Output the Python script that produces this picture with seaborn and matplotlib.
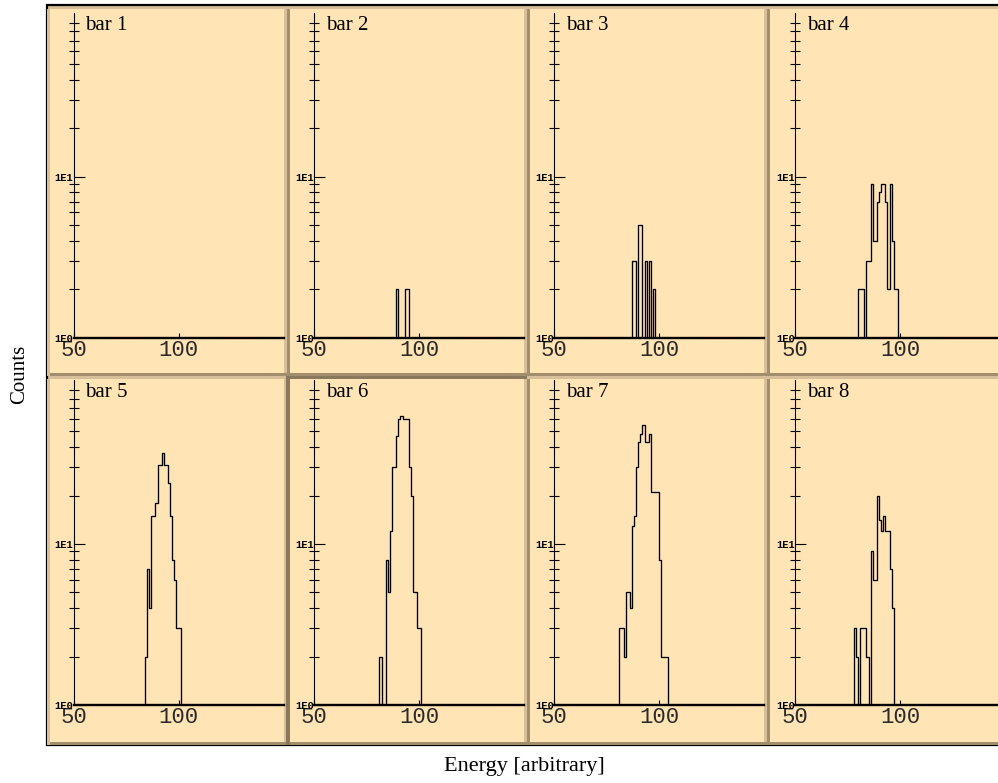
import numpy as np
import pandas as pd
import matplotlib
matplotlib.use("Agg")
import matplotlib.pyplot as plt
from matplotlib.patches import Rectangle
from matplotlib.ticker import NullFormatter, NullLocator
import seaborn as sns

# Energy bins (low edge, 1 unit wide) and counts for each bar
bar1_energy = [100]
bar1_counts = [1]
bar2_energy = [89, 93, 94]
bar2_counts = [2, 2, 2]
bar3_energy = [87, 88, 90, 91, 93, 94, 95, 96, 97]
bar3_counts = [3, 3, 5, 5, 3, 1, 3, 1, 2]
bar4_energy = [80, 81, 82, 84, 85, 86, 87, 88, 89, 90, 91, 92, 93, 94, 95, 96, 97, 98]
bar4_counts = [2, 2, 2, 3, 3, 9, 4, 4, 7, 8, 9, 9, 7, 2, 9, 4, 2, 2]
bar5_energy = [84, 85, 86, 87, 88, 89, 90, 91, 92, 93, 94, 95, 96, 97, 98, 99, 100]
bar5_counts = [2, 7, 4, 15, 15, 18, 31, 31, 37, 31, 31, 24, 15, 8, 6, 3, 3]
bar6_energy = [81, 84, 85, 86, 87, 88, 89, 90, 91, 92, 93, 94, 95, 96, 97, 98, 99, 100]
bar6_counts = [2, 8, 5, 12, 30, 30, 47, 60, 62, 60, 60, 60, 30, 20, 5, 5, 3, 3]
bar7_energy = [81, 82, 83, 84, 85, 86, 87, 88, 89, 90, 91, 92, 93, 94, 95, 96, 97,
               98, 99, 100, 101, 102, 103]
bar7_counts = [3, 3, 2, 5, 5, 4, 13, 15, 30, 43, 48, 55, 43, 43, 48, 21, 21,
               21, 21, 8, 2, 2, 2]
bar8_energy = [78, 79, 81, 82, 83, 84, 86, 87, 88, 89, 90, 91, 92, 93, 94, 95, 96]
bar8_counts = [3, 2, 3, 3, 3, 2, 9, 6, 6, 20, 14, 12, 15, 12, 12, 7, 4]

bar_names = ["bar 1", "bar 2", "bar 3", "bar 4", "bar 5", "bar 6", "bar 7", "bar 8"]
bar_energy = [bar1_energy, bar2_energy, bar3_energy, bar4_energy,
              bar5_energy, bar6_energy, bar7_energy, bar8_energy]
bar_counts = [bar1_counts, bar2_counts, bar3_counts, bar4_counts,
              bar5_counts, bar6_counts, bar7_counts, bar8_counts]

x_ticks = [50, 100]
x_ticklabels = ["50", "100"]
y_ticks = [1, 10]
y_ticklabels = ["1E0", "1E1"]
y_minor = [2, 3, 4, 5, 6, 7, 8, 9, 20, 30, 40, 50, 60, 70, 80, 90]
bin_edges = list(range(50, 151))

W, H = 998, 783
fig = plt.figure(figsize=(W / 100, H / 100), dpi=100, facecolor="white")

FACE = "#FFE4B5"
GAP = "#D7C099"
DARK = "#A28E6C"


def rect(x0, y0, x1, y1, **kw):
    """Rectangle given in pixel coordinates (origin top-left)."""
    r = Rectangle((x0 / W, 1 - y1 / H), (x1 - x0) / W, (y1 - y0) / H,
                  transform=fig.transFigure, **kw)
    fig.patches.append(r)
    return r


# outer frame and panel faces
rect(47, 5, 1003, 745, facecolor=GAP, edgecolor="black", linewidth=1.6, zorder=0)
face_x = [(50, 284), (290, 524), (530, 764), (770, 1003)]
face_y = [(9, 373), (379, 742)]
for r, (y0, y1) in enumerate(face_y):
    for c, (x0, x1) in enumerate(face_x):
        rect(x0, y0, x1, y1, facecolor=FACE, edgecolor="none", zorder=1)
        rect(x0 - 3, y0, x0, y1 + 3, facecolor=DARK if c else GAP,
             edgecolor="none", zorder=1)
        rect(x0, y1, x1 + 3, y1 + 3, facecolor=DARK, edgecolor="none", zorder=1)
# the selected panel has a deeper frame
rect(286, 376, 290, 745, facecolor="#8A785C", edgecolor="none", zorder=1)
rect(286, 376, 527, 379, facecolor="#8A785C", edgecolor="none", zorder=1)

axis_left = [73.5, 314.3, 554.3, 795.0]
axis_base = [337.7, 705.0]
decade_px = 161.0
y_top = 104.0
ax_h = decade_px * np.log10(y_top)
ax_w = 210.0

for i, (name, energy, counts) in enumerate(zip(bar_names, bar_energy, bar_counts)):
    r, c = divmod(i, 4)
    left = axis_left[c]
    base = axis_base[r]
    ax = fig.add_axes([left / W, 1 - base / H, ax_w / W, ax_h / H])
    ax.set_facecolor("none")
    ax.set_zorder(5)

    df = pd.DataFrame({"energy": np.asarray(energy, dtype=float) + 0.5,
                       "counts": np.asarray(counts, dtype=float)})
    sns.histplot(data=df, x="energy", weights="counts", bins=bin_edges,
                 element="step", fill=False, color="black", linewidth=0.95, ax=ax)

    ax.set_yscale("log")
    ax.set_xlim(50, 150)
    ax.set_ylim(1, y_top)
    ax.set_xlabel("")
    ax.set_ylabel("")

    ax.set_xticks(x_ticks, labels=x_ticklabels)
    ax.set_yticks(y_ticks, labels=y_ticklabels)
    ax.set_yticks(y_minor, minor=True)
    ax.yaxis.set_minor_formatter(NullFormatter())
    ax.xaxis.set_minor_locator(NullLocator())

    for s in ("top", "right"):
        ax.spines[s].set_visible(False)
    ax.spines["left"].set_linewidth(0.8)
    ax.spines["bottom"].set_linewidth(1.7)

    ax.tick_params(axis="x", which="major", direction="in", length=3.6,
                   width=0.8, pad=1.5, labelsize=16, labelcolor="#2a2a2a")
    ax.tick_params(axis="y", which="major", direction="in", length=8,
                   width=0.8, pad=0.3, labelsize=7.5)
    ax.tick_params(axis="y", which="minor", direction="inout", length=6.5,
                   width=0.8)
    for lbl in ax.get_xticklabels():
        lbl.set_fontfamily("Liberation Mono")
    for lbl in ax.get_yticklabels():
        lbl.set_fontfamily("Liberation Mono")
        lbl.set_fontweight("bold")

    ax.text(0.055, 0.948, name, transform=ax.transAxes, ha="left",
            va="baseline", fontsize=15, family="Liberation Serif")

fig.text(20 / W, 1 - 374 / H, "Counts", rotation=90, ha="center", va="center",
         fontsize=15, family="Liberation Serif")
fig.text(524 / W, 1 - 766 / H, "Energy [arbitrary]", ha="center", va="center",
         fontsize=16, family="Liberation Serif")

fig.savefig("out.png", dpi=100, facecolor="white")
